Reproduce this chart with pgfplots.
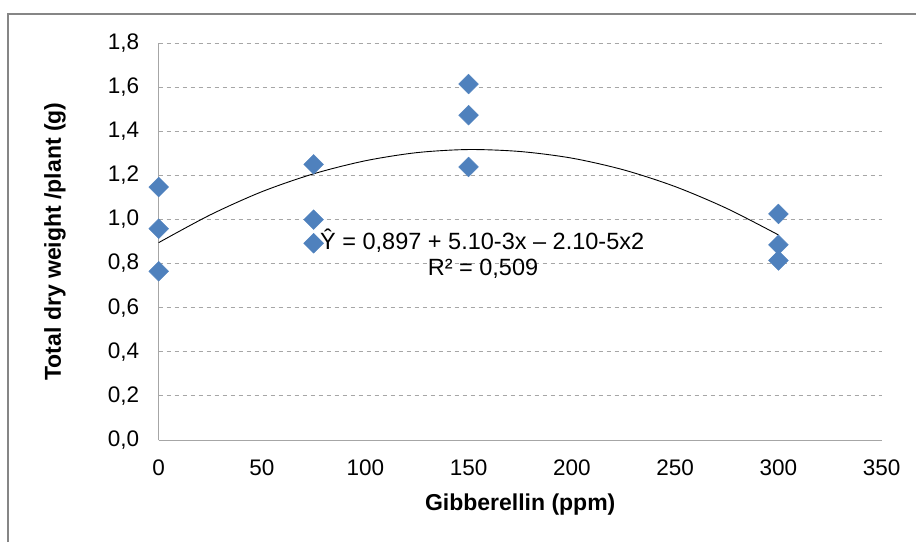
\documentclass[border=0pt]{standalone}
\usepackage{fontspec}
\setmainfont{Liberation Sans}
\usepackage{pgfplots}
\pgfplotsset{compat=1.18}
\definecolor{excelblue}{HTML}{4F81BD}
\definecolor{gridgray}{HTML}{A6A6A6}
\definecolor{framegray}{HTML}{868686}

\begin{document}
\begin{tikzpicture}
\path[use as bounding box] (0pt,0pt) rectangle (916pt,-542pt);
\draw[framegray,line width=1.6pt] (8pt,-542pt) -- (8pt,-14pt) -- (916pt,-14pt);
\begin{axis}[at={(158.7pt,-440pt)},anchor=south west,
scale only axis,width=723pt,height=397pt,
xmin=0,xmax=350,ymin=0,ymax=1.8,
xtick distance=50,ytick distance=0.2,
axis x line=bottom,axis y line=left,
axis line style={gridgray,-,line width=1pt},
major tick length=0pt,
ymajorgrids,
grid style={gridgray,dash pattern=on 4pt off 4pt,line width=0.8pt},
tick label style={font=\fontsize{22.5}{25}\selectfont},
yticklabel style={xshift=-16pt,/pgf/number format/.cd,fixed,fixed zerofill,precision=1,use comma},
xticklabel style={yshift=-16pt},
/pgf/number format/assume math mode=true,
xlabel={Gibberellin (ppm)},
ylabel={Total dry weight /plant (g)},
every axis x label/.style={at={(axis description cs:0.5,-0.1637)},anchor=center,
  font=\bfseries\fontsize{23}{26}\selectfont},
every axis y label/.style={at={(axis description cs:-0.1434,0.5)},anchor=center,rotate=90,
  font=\bfseries\fontsize{23}{26}\selectfont},
clip=false]
\addplot[black,line width=0.9pt,smooth] coordinates {
(0,0.895) (25,1.021) (50,1.126) (75,1.207) (100,1.266) (125,1.303) (150,1.317)
(175,1.308) (200,1.278) (225,1.225) (250,1.149) (275,1.050) (300,0.930)};
\addplot[only marks,mark=square*,mark size=7pt,
mark options={rotate=45,fill=excelblue,draw=excelblue}] coordinates {
(0,1.147) (0,0.958) (0,0.765)
(75,1.250) (75,0.999) (75,0.892)
(150,1.614) (150,1.473) (150,1.238)
(300,1.025) (300,0.885) (300,0.814)};
\node[font=\fontsize{23.5}{26}\selectfont] at (axis cs:156.6,0.905) {Ŷ = 0,897 + 5.10-3x – 2.10-5x2};
\node[font=\fontsize{23.5}{26}\selectfont] at (axis cs:157,0.777) {R² = 0,509};
\end{axis}
\end{tikzpicture}
\end{document}
